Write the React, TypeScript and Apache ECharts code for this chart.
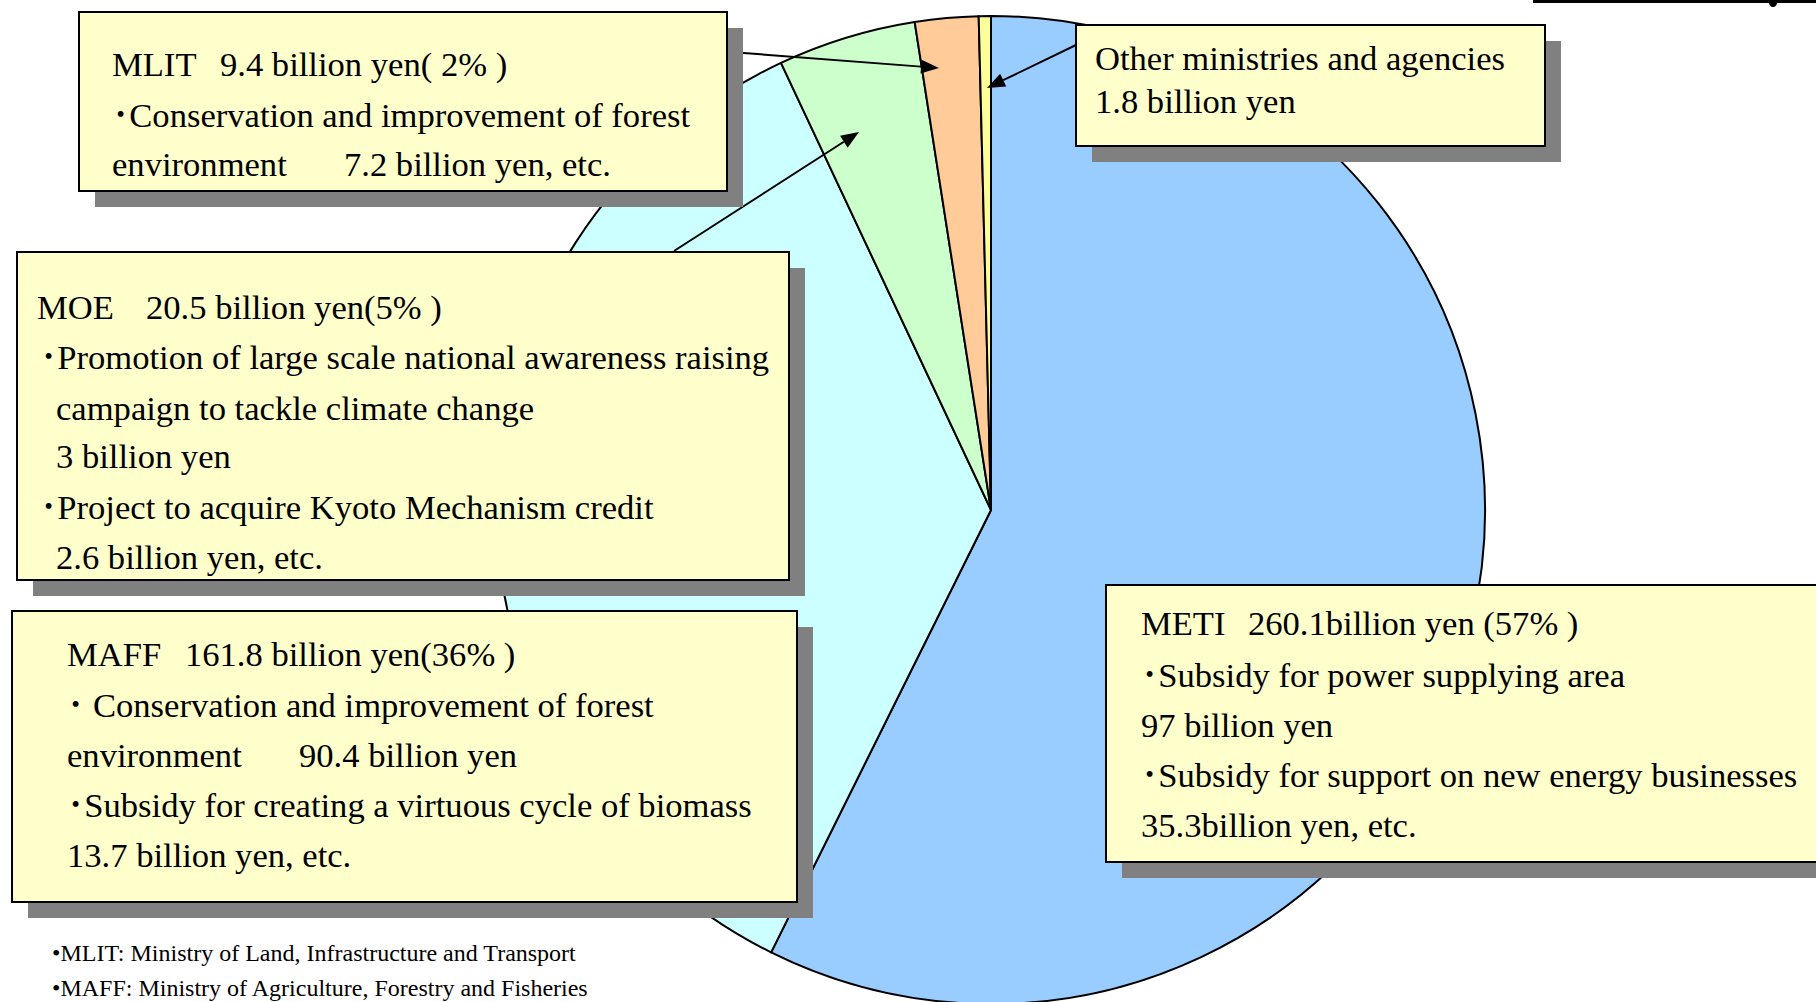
import React, { useEffect, useRef } from "react";
import * as echarts from "echarts";

// ---- data ----
const ministries = ["METI", "MAFF", "MOE", "MLIT", "Other ministries and agencies"];
const budgets = [260.1, 161.8, 20.5, 9.4, 1.8]; // billion yen
const sliceColors = ["#99CCFF", "#CCFFFF", "#CCFFCC", "#FFCC99", "#FFFF99"];

const footnotes = [
  "\u2022MLIT: Ministry of Land, Infrastructure and Transport",
  "\u2022MAFF: Ministry of Agriculture, Forestry and Fisheries",
];

const FONT = '"Liberation Serif", "Times New Roman", "Noto Sans CJK JP", serif';
const FS = 34.6;

function box(x: number, y: number, w: number, h: number) {
  return [
    { type: "rect", z: 20, shape: { x: x + 16, y: y + 16, width: w, height: h }, style: { fill: "#808080" } },
    { type: "rect", z: 21, shape: { x, y, width: w, height: h }, style: { fill: "#FFFFCC", stroke: "#000", lineWidth: 2 } },
  ];
}

function txt(x: number, y: number, s: string, size = FS) {
  return {
    type: "text",
    z: 22,
    x,
    y,
    style: { text: s, fontSize: size, fontFamily: FONT, fill: "#000", verticalAlign: "middle", align: "left" },
  };
}

function arrow(x1: number, y1: number, x2: number, y2: number) {
  const dx = x2 - x1, dy = y2 - y1;
  const L = Math.hypot(dx, dy);
  const ux = dx / L, uy = dy / L;
  const hl = 18, hw = 7;
  const bx = x2 - ux * hl, by = y2 - uy * hl;
  return [
    { type: "line", z: 15, shape: { x1, y1, x2: bx, y2: by }, style: { stroke: "#000", lineWidth: 2 } },
    {
      type: "polygon",
      z: 15,
      shape: { points: [[x2, y2], [bx - uy * hw, by + ux * hw], [bx + uy * hw, by - ux * hw]] },
      style: { fill: "#000" },
    },
  ];
}

export default function App() {
  const ref = useRef<HTMLDivElement>(null);
  useEffect(() => {
    if (!ref.current) return;
    const chart = echarts.init(ref.current, undefined, { renderer: "svg" });
    const dot = "\uFF65";
    const graphic: any[] = [
      // top-right partial underline
      { type: "line", z: 15, shape: { x1: 1533, y1: 1.5, x2: 1816, y2: 1.5 }, style: { stroke: "#000", lineWidth: 3 } },
      { type: "circle", z: 15, shape: { cx: 1773, cy: 3, r: 4 }, style: { fill: "#000" } },
      // arrows
      ...arrow(730, 52, 939, 68),
      ...arrow(1076, 45, 987, 88),
      ...arrow(674, 251, 859, 132),
      // MLIT box
      ...box(79, 12, 648, 179),
      txt(112, 64, "MLIT"),
      txt(220, 64, "9.4 billion yen( 2% )"),
      txt(112, 115, dot + "Conservation and improvement of forest"),
      txt(112, 164, "environment"),
      txt(344, 164, "7.2 billion yen, etc."),
      // Other box
      ...box(1076, 25, 469, 121),
      txt(1095, 58, "Other ministries and agencies"),
      txt(1095, 101, "1.8 billion yen"),
      // MOE box
      ...box(17, 252, 772, 328),
      txt(37, 307, "MOE"),
      txt(146, 307, "20.5 billion yen(5% )"),
      txt(40, 357, dot + "Promotion of large scale national awareness raising"),
      txt(56, 408, "campaign to tackle climate change"),
      txt(56, 456, "3 billion yen"),
      txt(40, 507, dot + "Project to acquire Kyoto Mechanism credit"),
      txt(56, 557, "2.6 billion yen, etc."),
      // MAFF box
      ...box(12, 611, 785, 291),
      txt(67, 654, "MAFF"),
      txt(185, 654, "161.8 billion yen(36% )"),
      txt(67, 705, dot + " Conservation and improvement of forest"),
      txt(67, 755, "environment"),
      txt(299, 755, "90.4 billion yen"),
      txt(67, 805, dot + "Subsidy for creating a virtuous cycle of biomass"),
      txt(67, 855, "13.7 billion yen, etc."),
      // METI box
      ...box(1106, 585, 730, 277),
      txt(1141, 623, "METI"),
      txt(1248, 623, "260.1billion yen (57% )"),
      txt(1141, 675, dot + "Subsidy for power supplying area"),
      txt(1141, 725, "97 billion yen"),
      txt(1141, 775, dot + "Subsidy for support on new energy businesses"),
      txt(1141, 825, "35.3billion yen, etc."),
      // footnotes
      txt(52, 953, footnotes[0], 24),
      txt(52, 988, footnotes[1], 24),
    ];
    chart.setOption({
      animation: false,
      backgroundColor: "#ffffff",
      series: [
        {
          type: "pie",
          center: [991, 510],
          radius: 494,
          startAngle: 90,
          clockwise: true,
          silent: true,
          label: { show: false },
          labelLine: { show: false },
          itemStyle: { borderColor: "#000", borderWidth: 2 },
          data: ministries.map((n, i) => ({ name: n, value: budgets[i], itemStyle: { color: sliceColors[i] } })),
        },
      ],
      graphic,
    });
    return () => chart.dispose();
  }, []);
  return <div ref={ref} style={{ position: "absolute", left: 0, top: 0, width: 1816, height: 1002 }} />;
}
